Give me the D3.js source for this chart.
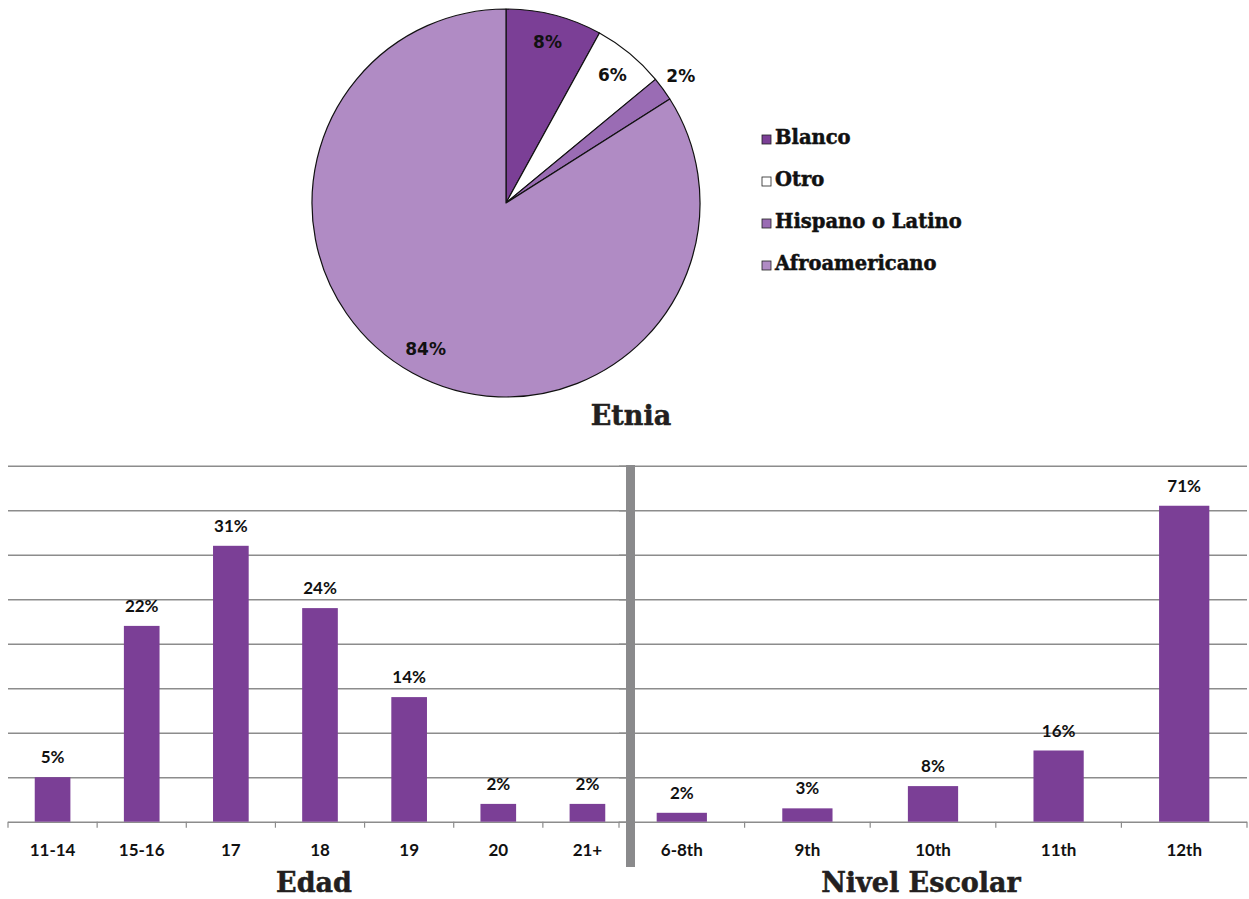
<!DOCTYPE html>
<html>
<head>
<meta charset="utf-8">
<script src="https://cdn.jsdelivr.net/npm/d3@7"></script>
<style>
    body { margin: 0; background: #fff; }
    svg { display: block; }
</style>
</head>
<body>
<svg id="chart" width="1249" height="899"></svg>
<script>
// pie: Etnia
var ethnicity = ['Blanco', 'Otro', 'Hispano o Latino', 'Afroamericano'];
var ethnicityPct = [8, 6, 2, 84];
var ethnicityColors = ['#7b3f96', '#ffffff', '#9a6cb4', '#b08bc4'];

// bars: Edad
var ageGroups = ['11-14', '15-16', '17', '18', '19', '20', '21+'];
var agePct = [5, 22, 31, 24, 14, 2, 2];
var ageTicks = [0, 5, 10, 15, 20, 25, 30, 35, 40];

// bars: Nivel Escolar
var grades = ['6-8th', '9th', '10th', '11th', '12th'];
var gradePct = [2, 3, 8, 16, 71];
var gradeTicks = [0, 10, 20, 30, 40, 50, 60, 70, 80];

var barColor = '#7b3f96',
    gridColor = '#8c8c8c',
    titleFont = '"DejaVu Serif", serif',
    labelFont = 'Lato, "Open Sans", sans-serif';

var svg = d3.select('#chart');

// ---- pie ----
var cx = 506, cy = 203, r = 194;
var pie = d3.pie().sort(null).value(function(d) { return d; });
var arcs = pie(ethnicityPct);
var arc = d3.arc().innerRadius(0).outerRadius(r);
var labelArc = d3.arc().innerRadius(r * 0.86).outerRadius(r * 0.86);
var outerArc = d3.arc().innerRadius(r + 22).outerRadius(r + 22);

var pieG = svg.append('g').attr('transform', 'translate(' + cx + ',' + cy + ')');

pieG.selectAll('path.slice')
    .data(arcs)
    .enter().append('path')
    .attr('class', 'slice')
    .attr('d', arc)
    .attr('fill', function(d, i) { return ethnicityColors[i]; })
    .attr('stroke', '#111')
    .attr('stroke-width', 1.2)
    .attr('stroke-linejoin', 'round');

pieG.selectAll('text.pct')
    .data(arcs)
    .enter().append('text')
    .attr('class', 'pct')
    .attr('transform', function(d) {
        var c = (d.data < 3 ? outerArc : labelArc).centroid(d);
        return 'translate(' + c[0] + ',' + c[1] + ')';
    })
    .attr('text-anchor', 'middle')
    .attr('dy', '0.36em')
    .style('font', 'bold 17px "DejaVu Sans", sans-serif')
    .style('fill', '#111')
    .text(function(d) { return d.data + '%'; });

// legend
var legend = svg.append('g').attr('transform', 'translate(762,144)');
var rows = legend.selectAll('g')
    .data(ethnicity)
    .enter().append('g')
    .attr('transform', function(d, i) { return 'translate(0,' + (i * 42) + ')'; });

rows.append('rect')
    .attr('x', 0).attr('y', -9)
    .attr('width', 9).attr('height', 9)
    .attr('fill', function(d, i) { return ethnicityColors[i]; })
    .attr('stroke', '#222')
    .attr('stroke-width', 0.8);

rows.append('text')
    .attr('x', 13)
    .style('font', 'bold 19.5px ' + titleFont)
    .style('fill', '#111')
    .style('stroke', '#111')
    .style('stroke-width', 0.5)
    .text(function(d) { return d; });

svg.append('text')
    .attr('x', 631).attr('y', 425)
    .attr('text-anchor', 'middle')
    .style('font', 'bold 27px ' + titleFont)
    .style('fill', '#231f20')
    .style('stroke', '#231f20')
    .style('stroke-width', 0.5)
    .text('Etnia');

// ---- bars ----
var baseY = 821.7, topY = 465.7;

function barChart(cats, vals, ticks, x0, x1, title, titleX) {
    var g = svg.append('g');

    var x = d3.scaleBand().domain(cats).range([x0, x1]).paddingInner(0.6).paddingOuter(0.3);
    var y = d3.scaleLinear().domain([0, ticks[ticks.length - 1]]).range([baseY, topY]);

    // gridlines
    g.append('g')
        .attr('transform', 'translate(' + x0 + ',0)')
        .call(d3.axisLeft(y).tickValues(ticks).tickSize(-(x1 - x0)).tickFormat(''))
        .call(function(a) {
            a.select('.domain').remove();
            a.selectAll('line').attr('stroke', gridColor).attr('stroke-width', 1.4);
        });

    // tick marks at band edges
    var edges = d3.range(cats.length + 1).map(function(i) { return x0 + i * x.step(); });
    g.selectAll('line.edge')
        .data(edges)
        .enter().append('line')
        .attr('class', 'edge')
        .attr('x1', function(d) { return d; }).attr('x2', function(d) { return d; })
        .attr('y1', baseY).attr('y2', baseY + 6)
        .attr('stroke', gridColor).attr('stroke-width', 1.2);

    g.selectAll('rect.bar')
        .data(vals)
        .enter().append('rect')
        .attr('class', 'bar')
        .attr('x', function(d, i) { return x(cats[i]); })
        .attr('width', x.bandwidth())
        .attr('y', function(d) { return y(d); })
        .attr('height', function(d) { return baseY - y(d); })
        .attr('fill', barColor);

    g.selectAll('text.val')
        .data(vals)
        .enter().append('text')
        .attr('class', 'val')
        .attr('x', function(d, i) { return x(cats[i]) + x.bandwidth() / 2; })
        .attr('y', function(d) { return y(d) - 14; })
        .attr('text-anchor', 'middle')
        .style('font', 'bold 17px ' + labelFont)
        .style('fill', '#111')
        .text(function(d) { return d + '%'; });

    g.selectAll('text.cat')
        .data(cats)
        .enter().append('text')
        .attr('class', 'cat')
        .attr('x', function(d) { return x(d) + x.bandwidth() / 2; })
        .attr('y', 856)
        .attr('text-anchor', 'middle')
        .style('font', 'bold 17px ' + labelFont)
        .style('fill', '#111')
        .text(function(d) { return d; });

    g.append('text')
        .attr('x', titleX).attr('y', 892)
        .attr('text-anchor', 'middle')
        .style('font', 'bold 27px ' + titleFont)
        .style('fill', '#231f20')
        .style('stroke', '#231f20')
        .style('stroke-width', 0.5)
        .text(title);
}

barChart(ageGroups, agePct, ageTicks, 8, 632, 'Edad', 314);
barChart(grades, gradePct, gradeTicks, 619, 1247, 'Nivel Escolar', 921);

// divider
svg.append('rect')
    .attr('x', 626).attr('y', 465)
    .attr('width', 9).attr('height', 402)
    .attr('fill', '#8a8a8c');
</script>
</body>
</html>
